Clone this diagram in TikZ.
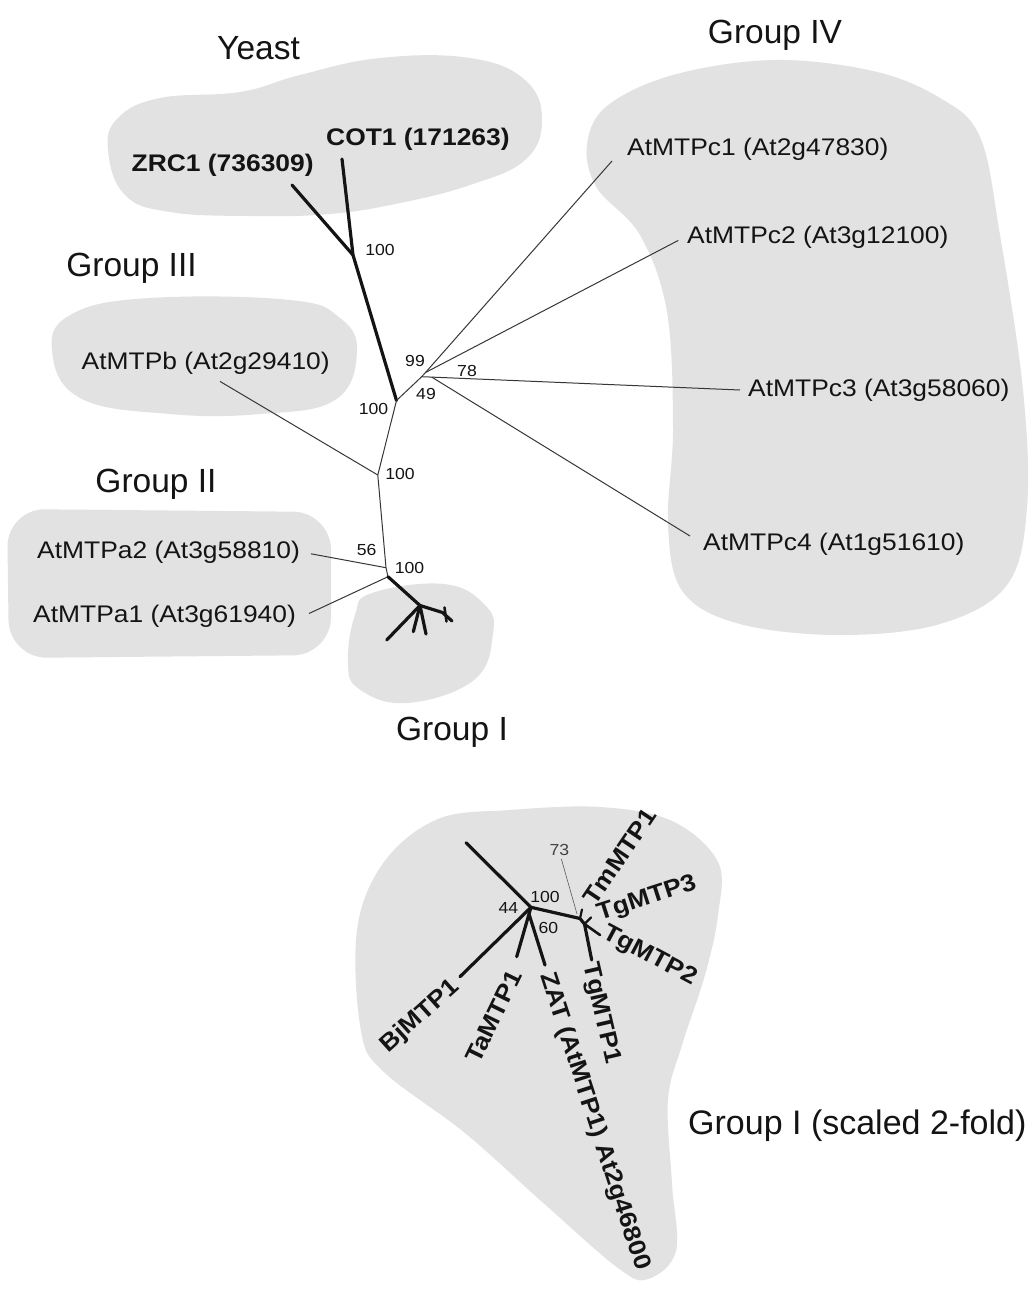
\documentclass[tikz,border=0pt]{standalone}
\usepackage{fontspec}
\setmainfont{Liberation Sans}[FakeStretch=1.1]
\newfontfamily\grpfont{Liberation Sans}
\definecolor{blobgray}{RGB}{226,226,226}
\definecolor{inkc}{RGB}{20,20,20}
\begin{document}
\begin{tikzpicture}[x=1pt,y=-1pt,
  blob/.style={fill=blobgray},
  thickbr/.style={draw=inkc,line width=3.2pt,line cap=round,line join=round},
  thinbr/.style={draw=inkc!85,line width=1pt},
  leaf/.style={font=\fontsize{24}{28}\selectfont,inner sep=0pt,text=inkc},
  bleaf/.style={font=\fontsize{24}{28}\selectfont\bfseries,inner sep=0pt,text=inkc},
  boot/.style={font=\fontsize{16}{18}\selectfont,inner sep=0pt,text=inkc},
  grp/.style={font=\grpfont\fontsize{33.5}{37}\selectfont,inner sep=0pt,text=inkc}]
\fill[white] (0,0) rectangle (1035,1291);
\useasboundingbox (0,0) rectangle (1035,1291);

% ---------- blobs ----------
\fill[blob] plot[smooth cycle,tension=0.7] coordinates {(108,150) (118,118) (160,98) (240,92) (300,75) (380,58) (470,58) (525,80) (542,120) (525,160) (470,185) (400,203) (330,214) (250,216) (170,212) (125,195)};
\fill[blob] plot[smooth cycle,tension=0.7] coordinates {(52,350) (72,314) (150,298) (290,300) (340,318) (357,352) (335,400) (260,414) (170,414) (80,398)};
\fill[blob,rounded corners=38pt] (7,509) -- (331,512) -- (331,655) -- (9,658) -- cycle;
\fill[blob] plot[smooth cycle,tension=0.7] coordinates {(348,662) (355,615) (372,593) (444,584) (485,605) (493,634) (474,680) (407,703) (359,689)};
\fill[blob] plot[smooth cycle,tension=0.6] coordinates {(587,145) (607,106) (673,75) (773,60) (873,71) (940,98) (980,137) (1000,235) (1023,390) (1027,507) (1007,585) (940,624) (840,635) (740,624) (683,592) (668,526) (673,429) (667,312) (640,235) (597,188)};
\fill[blob] plot[smooth cycle,tension=0.6] coordinates {(438,819) (510,810) (600,807) (672,821) (718,862) (718,915) (705,975) (682,1045) (668,1100) (672,1184) (676,1251) (648,1279) (618,1268) (540,1200) (465,1133) (384,1072) (361,1031) (357,930) (384,862)};

% ---------- main tree ----------
\coordinate (cot) at (342,159);
\coordinate (zrc) at (292,185);
\coordinate (Y) at (353,255);
\coordinate (A) at (396.5,400.5);
\coordinate (N1) at (421.7,376.7);
\coordinate (N2) at (425.5,372.5);
\coordinate (N3) at (431.7,377.1);
\coordinate (c1e) at (612,161);
\coordinate (c2e) at (678.3,240.4);
\coordinate (c3e) at (740,390);
\coordinate (c4e) at (690,536);
\coordinate (B) at (377.8,475);
\coordinate (be) at (220,381.4);
\coordinate (C) at (386,567.7);
\coordinate (D) at (388,576.7);
\coordinate (a2e) at (311,553.8);
\coordinate (a1e) at (309,613.5);
\coordinate (E) at (420,605.5);
\coordinate (g1) at (386.7,640);
\coordinate (g2) at (413.3,631.7);
\coordinate (g3) at (426,634);
\coordinate (F2) at (442.5,612.5);
\coordinate (g4) at (452,621);
\coordinate (g5) at (444.5,607.5);
\coordinate (g6) at (446.5,621.5);

\draw[thickbr] (cot) -- (Y) -- (A);
\draw[thickbr] (zrc) -- (Y);
\draw[thinbr] (A) -- (N1) -- (N2) -- (c1e);
\draw[thinbr] (N2) -- (c2e);
\draw[thinbr] (N1) -- (N3) -- (c3e);
\draw[thinbr] (N3) -- (c4e);
\draw[thinbr] (A) -- (B) -- (C) -- (D);
\draw[thinbr] (B) -- (be);
\draw[thinbr] (C) -- (a2e);
\draw[thinbr] (D) -- (a1e);
\draw[thickbr] (D) -- (E) -- (g1);
\draw[thickbr] (E) -- (g2);
\draw[thickbr] (E) -- (g3);
\draw[thickbr] (E) -- (F2) -- (g4);
\draw[thickbr,line width=2.6pt] (g5) -- (g6);

% leaf labels
\node[leaf,anchor=base west] (tc1) at (627,155.5) {AtMTPc1 (At2g47830)};
\node[leaf,anchor=base west] (tc2) at (687,243) {AtMTPc2 (At3g12100)};
\node[leaf,anchor=base west] (tc3) at (748,396.5) {AtMTPc3 (At3g58060)};
\node[leaf,anchor=base west] (tc4) at (703,550.5) {AtMTPc4 (At1g51610)};
\node[leaf,anchor=base west] (tb) at (81.5,369.5) {AtMTPb (At2g29410)};
\node[leaf,anchor=base west] (ta2) at (37,558.5) {AtMTPa2 (At3g58810)};
\node[leaf,anchor=base west] (ta1) at (33,622) {AtMTPa1 (At3g61940)};
\node[bleaf,anchor=base west] (tzrc) at (131.5,171.5) {ZRC1 (736309)};
\node[bleaf,anchor=base west] (tcot) at (326,145.5) {COT1 (171263)};

% bootstrap values
\node[boot] (bY) at (380,250) {100};
\node[boot] (b99) at (415,360.5) {99};
\node[boot] (b78) at (467,371) {78};
\node[boot] (b49) at (426,394) {49};
\node[boot] (bA) at (373.5,409) {100};
\node[boot] (bB) at (400,473.5) {100};
\node[boot] (b56) at (366.7,549.5) {56};
\node[boot] (bC) at (409.5,567.5) {100};

% group labels
\node[grp,anchor=base] (gY) at (258.5,59) {Yeast};
\node[grp,anchor=base] (g4l) at (775,43) {Group IV};
\node[grp,anchor=base] (g3l) at (131.5,276) {Group III};
\node[grp,anchor=base] (g2l) at (156,492) {Group II};
\node[grp,anchor=base] (g1l) at (452,740) {Group I};
\node[grp,anchor=base west,font=\grpfont\fontsize{34}{38}\selectfont] (g1s) at (688,1134) {Group I (scaled 2-fold)};

% ---------- Group I scaled ----------
\coordinate (ul) at (466,842.7);
\coordinate (F) at (531,907.3);
\coordinate (Fb) at (529,914);
\coordinate (bj) at (460,976.7);
\coordinate (ta) at (516.7,956.7);
\coordinate (za) at (545,965);
\coordinate (G) at (580,918.5);
\coordinate (tm) at (582,909.5);
\coordinate (H) at (584.5,924);
\coordinate (t3) at (591,917.5);
\coordinate (t2) at (600,935);
\coordinate (t1) at (591.7,960);
\coordinate (a73) at (577,914);

\draw[thickbr] (ul) -- (F) -- (G) -- (H) -- (t1);
\draw[thickbr] (F) -- (bj);
\draw[thickbr] (F) -- (Fb) -- (ta);
\draw[thickbr] (Fb) -- (za);
\draw[thickbr,line width=2.2pt] (G) -- (tm);
\draw[thickbr,line width=2.2pt] (H) -- (t3);
\draw[thickbr,line width=2.6pt] (H) -- (t2);

\node[boot] (b44) at (508.3,908.3) {44};
\node[boot] (b100s) at (545,896.7) {100};
\node[boot] (b60) at (548.3,928.3) {60};
\node[boot,text=inkc!80] (b73) at (559.3,850) {73};
\draw[draw=inkc!70,line width=0.6pt] (b73.south) ++(2,3) -- (a73);

\node[bleaf,anchor=east,rotate=42] (lbj) at (456,984) {BjMTP1};
\node[bleaf,anchor=east,rotate=64] (lta) at (515.5,972) {TaMTP1};
\node[bleaf,anchor=west,rotate=-72] (lza) at (546,973) {ZAT (AtMTP1) At2g46800};
\node[bleaf,anchor=west,rotate=-77] (lt1) at (589,963) {TgMTP1};
\node[bleaf,anchor=west,rotate=-28] (lt2) at (604,932) {TgMTP2};
\node[bleaf,anchor=west,rotate=18] (lt3) at (598,915) {TgMTP3};
\node[bleaf,anchor=west,rotate=56] (ltm) at (589,902) {TmMTP1};
\end{tikzpicture}
\end{document}
